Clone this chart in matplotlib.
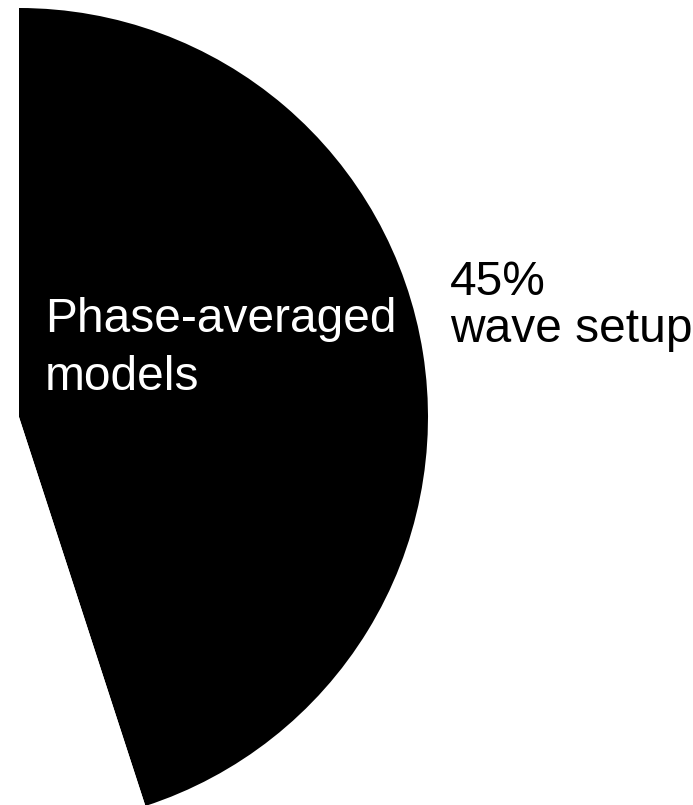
import matplotlib
matplotlib.use("Agg")
import matplotlib.pyplot as plt

plt.rcParams['font.family'] = ['Liberation Sans', 'DejaVu Sans']

# Share of studies by modelling approach (only the first slice is shaded)
categories = ["Phase-averaged models", "Other"]
shares = [45, 55]
slice_label = "wave setup"

W, H, DPI = 693, 805, 100
fig = plt.figure(figsize=(W / DPI, H / DPI), dpi=DPI)

# pixel geometry of the pie: centre and radius
cx, cy_top, R = 19, 417, 409
lim = 1.1
span = 2 * lim * R
left = (cx - lim * R) / W
bottom = ((H - cy_top) - lim * R) / H
ax = fig.add_axes([left, bottom, span / W, span / H])

wedges, _ = ax.pie(shares, colors=["black", "white"], startangle=90,
                   counterclock=False, radius=1,
                   wedgeprops=dict(linewidth=0))
ax.set_xlim(-lim, lim)
ax.set_ylim(-lim, lim)
ax.set_aspect('auto')
ax.axis('off')

# baseline alignment refers to the last line of each label
ax.text((45 - cx) / R, (cy_top - 390) / R, "Phase-averaged\nmodels",
        color="white", fontsize=34.5, ha="left", va="baseline",
        linespacing=1.36)
ax.text((450 - cx) / R, (cy_top - 342) / R, f"{shares[0]}%\n{slice_label}",
        color="black", fontsize=34.5, ha="left", va="baseline",
        linespacing=1.06)

fig.savefig("out.png", dpi=DPI)
